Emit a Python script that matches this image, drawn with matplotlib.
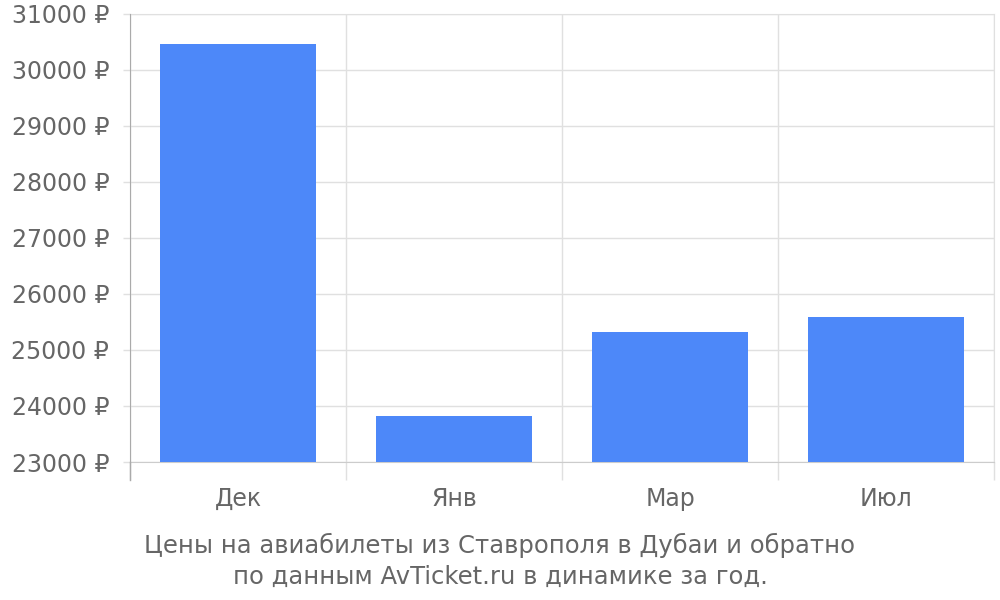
import numpy as np
import matplotlib.pyplot as plt

months = ['Дек', 'Янв', 'Мар', 'Июл']
prices = [30465, 23820, 25320, 25590]
y_ticks = list(range(23000, 32000, 1000))

text_color = '#666666'
grid_color = '#e0e0e0'

fig = plt.figure(figsize=(10, 6), dpi=100)
ax = fig.add_axes([0.13, 0.23, 0.864, 0.7467])

x = np.arange(len(months))
ax.bar(x, prices, width=0.72, color='#4d88f9', zorder=3)

ax.set_xlim(-0.5, len(months) - 0.5)
ax.set_ylim(23000, 31000)
ax.set_yticks(y_ticks)
ax.set_yticklabels([f'{v} ₽' for v in y_ticks])
ax.set_xticks(x)
ax.set_xticklabels(months)

# vertical lines between months, going a bit below the axis
bounds = np.arange(len(months) + 1) - 0.5
ax.set_xticks(bounds, minor=True)
ax.tick_params(axis='x', which='minor', length=13, width=1, color=grid_color, direction='out')
ax.tick_params(axis='x', which='major', length=0, pad=18, labelsize=17, labelcolor=text_color)
ax.tick_params(axis='y', length=5, width=1, color=grid_color, pad=10, labelsize=17, labelcolor=text_color)

ax.grid(True, axis='y', color=grid_color, linewidth=1, zorder=0)
ax.grid(True, axis='x', which='minor', color=grid_color, linewidth=1, zorder=0)

for s in ['top', 'right']:
    ax.spines[s].set_color(grid_color)
ax.spines['bottom'].set_color('#cccccc')
ax.spines['left'].set_color('#aaaaaa')
ax.spines['left'].set_zorder(4)
ax.plot([-0.5, -0.5], [23000, 22680], color='#aaaaaa', linewidth=1, clip_on=False, zorder=4)

fig.text(0.5, 0.065, 'Цены на авиабилеты из Ставрополя в Дубаи и обратно\nпо данным AvTicket.ru в динамике за год.',
         ha='center', va='center', fontsize=17.5, color=text_color, linespacing=1.33)

fig.savefig('out.png', dpi=100)
